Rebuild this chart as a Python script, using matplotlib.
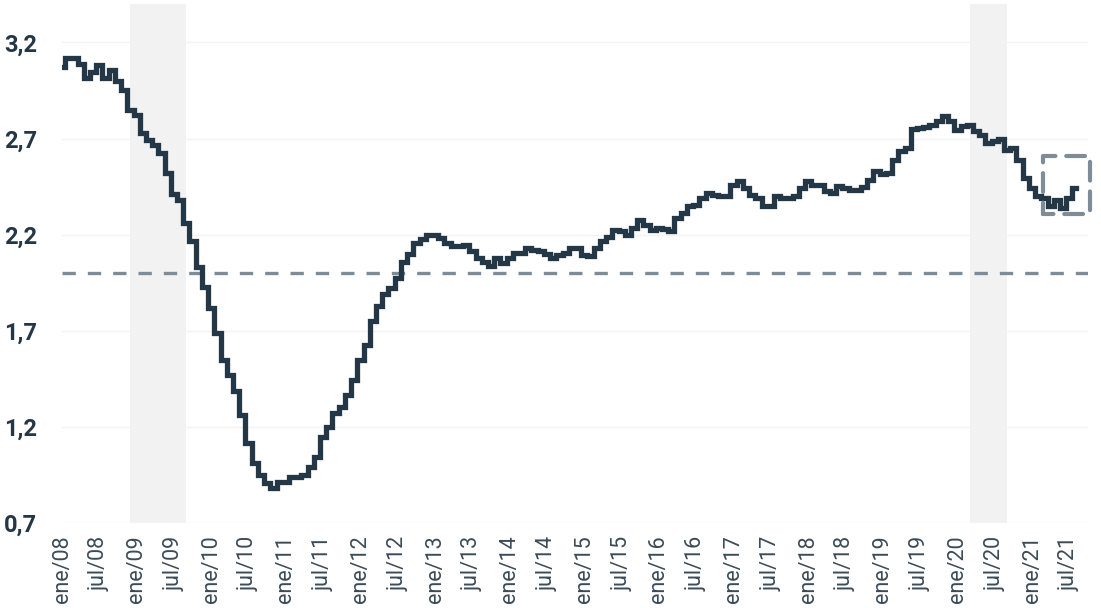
import numpy as np
import pandas as pd
import matplotlib
matplotlib.use('Agg')
import matplotlib.pyplot as plt
from matplotlib.patches import Rectangle

# monthly values, ene/08 .. ago/21
v2008 = [3.07, 3.12, 3.12, 3.09, 3.015, 3.045, 3.085, 3.015, 3.055, 3.00, 2.955, 2.85]
v2009 = [2.825, 2.73, 2.69, 2.665, 2.627, 2.52, 2.41, 2.38, 2.26, 2.165, 2.03, 1.93]
v2010 = [1.82, 1.69, 1.55, 1.47, 1.385, 1.26, 1.115, 1.01, 0.95, 0.907, 0.88, 0.915]
v2011 = [0.915, 0.94, 0.94, 0.95, 0.99, 1.045, 1.15, 1.20, 1.27, 1.305, 1.367, 1.445]
v2012 = [1.55, 1.627, 1.75, 1.83, 1.89, 1.92, 1.975, 2.06, 2.10, 2.157, 2.18, 2.20]
v2013 = [2.20, 2.183, 2.157, 2.14, 2.14, 2.148, 2.113, 2.078, 2.06, 2.035, 2.078, 2.053]
v2014 = [2.078, 2.105, 2.105, 2.13, 2.12, 2.113, 2.10, 2.078, 2.095, 2.105, 2.13, 2.13]
v2015 = [2.095, 2.09, 2.13, 2.165, 2.19, 2.226, 2.217, 2.20, 2.235, 2.278, 2.252, 2.226]
v2016 = [2.235, 2.23, 2.217, 2.287, 2.313, 2.347, 2.356, 2.39, 2.417, 2.408, 2.40, 2.40]
v2017 = [2.46, 2.478, 2.443, 2.408, 2.39, 2.347, 2.35, 2.40, 2.39, 2.39, 2.40, 2.443]
v2018 = [2.478, 2.46, 2.46, 2.425, 2.417, 2.455, 2.443, 2.43, 2.43, 2.448, 2.486, 2.53]
v2019 = [2.518, 2.52, 2.59, 2.634, 2.65, 2.75, 2.755, 2.76, 2.773, 2.79, 2.816, 2.79]
v2020 = [2.747, 2.764, 2.773, 2.738, 2.72, 2.677, 2.686, 2.70, 2.643, 2.65, 2.59, 2.495]
v2021 = [2.443, 2.40, 2.39, 2.347, 2.38, 2.34, 2.39, 2.443]

values = v2008 + v2009 + v2010 + v2011 + v2012 + v2013 + v2014 + v2015 + v2016 + v2017 + v2018 + v2019 + v2020 + v2021
dates = pd.date_range('2008-01-01', periods=len(values), freq='MS')

recessions = [(10.9, 19.9), (146.0, 152.0)]   # shaded periods (month index)
reference_level = 2.0
highlight_box = (157.7, 165.3, 2.31, 2.61)     # x0, x1, y0, y1
y_ticks = [0.7, 1.2, 1.7, 2.2, 2.7, 3.2]

meses = {1: 'ene', 7: 'jul'}
tick_pos = [i for i, d in enumerate(dates) if d.month in (1, 7)]
tick_lab = ['%s/%s' % (meses[dates[i].month], dates[i].strftime('%y')) for i in tick_pos]

navy = '#243746'
grey = '#7d8c97'
font = ['Roboto', 'DejaVu Sans']

fig = plt.figure(figsize=(11.01, 6.08), dpi=100)
ax = fig.add_axes([62 / 1101, 85 / 608, 1026 / 1101, 519 / 608])

for a, b in recessions:
    ax.axvspan(a, b, color='#f2f2f2', lw=0, zorder=0)

x = np.arange(len(values))
ax.plot(x, values, drawstyle='steps-mid', color=navy, lw=3.8, zorder=3,
        solid_joinstyle='miter')
ax.axhline(reference_level, color=grey, lw=2.4, dashes=(4, 3.6), zorder=2)

bx0, bx1, by0, by1 = highlight_box
ax.add_patch(Rectangle((bx0, by0), bx1 - bx0, by1 - by0, fill=False,
                       edgecolor=grey, lw=3, linestyle=(2, (4.5, 2.6)),
                       capstyle='round', joinstyle='round', clip_on=False, zorder=4))

ax.set_xlim(0, 165)
ax.set_ylim(0.7, 3.4)
ax.set_yticks(y_ticks)
ax.set_yticklabels([('%.1f' % t).replace('.', ',') for t in y_ticks],
                   family=font, fontsize=17, fontweight='bold', color=navy)
ax.set_xticks(tick_pos)
ax.set_xticklabels(tick_lab, rotation=90, family=font, fontsize=15.5, color='#3a4a57')
ax.tick_params(axis='both', length=0)
ax.tick_params(axis='y', pad=18)
ax.tick_params(axis='x', pad=9)
ax.grid(axis='y', color='#f3f3f3', lw=1, zorder=1)
for s in ax.spines.values():
    s.set_visible(False)

fig.savefig('out.png', dpi=100)
